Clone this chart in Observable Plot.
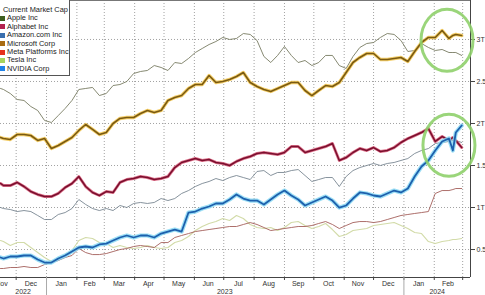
<!DOCTYPE html>
<html><head><meta charset="utf-8">
<script src="https://cdn.jsdelivr.net/npm/d3@7"></script>
<script src="https://cdn.jsdelivr.net/npm/@observablehq/plot@0.6"></script>
<style>
html,body{margin:0;padding:0;background:#fff;overflow:hidden;}
#wrap{position:relative;width:485px;height:295px;}
#legend{position:absolute;left:-1px;top:-1px;width:71px;height:77px;background:#fff;border:1px solid #555;box-sizing:border-box;font:7.4px "Liberation Sans",Arial,sans-serif;color:#222;padding-top:6px;}
#legend div{height:8.4px;line-height:8.4px;white-space:nowrap;position:relative;padding-left:7px;}
#legend .title{padding-left:3px;}
#legend span.sw{position:absolute;left:0;top:1.7px;width:5px;height:5px;}
</style>
</head><body>
<div id="wrap"><div id="chart"></div><div id="legend"></div></div>
<script>
const dates = ["2022-11-15","2022-11-18","2022-11-25","2022-12-02","2022-12-09","2022-12-16","2022-12-23","2022-12-30","2023-01-06","2023-01-13","2023-01-20","2023-01-27","2023-02-03","2023-02-10","2023-02-17","2023-02-24","2023-03-03","2023-03-10","2023-03-17","2023-03-24","2023-03-31","2023-04-07","2023-04-14","2023-04-21","2023-04-28","2023-05-05","2023-05-12","2023-05-19","2023-05-26","2023-06-02","2023-06-09","2023-06-16","2023-06-23","2023-06-30","2023-07-07","2023-07-14","2023-07-21","2023-07-28","2023-08-04","2023-08-11","2023-08-18","2023-08-25","2023-09-01","2023-09-08","2023-09-15","2023-09-22","2023-09-29","2023-10-06","2023-10-13","2023-10-20","2023-10-27","2023-11-03","2023-11-10","2023-11-17","2023-11-24","2023-12-01","2023-12-08","2023-12-15","2023-12-22","2023-12-29","2024-01-05","2024-01-12","2024-01-19","2024-01-26","2024-02-02","2024-02-09","2024-02-16","2024-02-20","2024-02-23","2024-02-29"];

const names = ["Apple Inc","Alphabet Inc","Amazon.com Inc","Microsoft Corp","Meta Platforms Inc","Tesla Inc","NVIDIA Corp"];

// market cap, trillions USD
const apple = [2.417,2.405,2.357,2.286,2.274,2.202,2.155,2.036,2.012,2.095,2.179,2.274,2.405,2.417,2.429,2.333,2.357,2.452,2.464,2.5,2.595,2.619,2.631,2.690,2.667,2.631,2.726,2.714,2.774,2.845,2.893,2.940,2.976,3.024,3.0,3.012,3.071,3.060,2.988,2.798,2.726,2.810,2.917,2.810,2.726,2.75,2.690,2.726,2.810,2.810,2.690,2.655,2.798,2.905,2.952,2.964,3.024,3.071,3.060,2.988,2.857,2.869,2.952,2.905,2.869,2.881,2.845,2.845,2.845,2.810];
const alphabet = [1.286,1.262,1.262,1.298,1.25,1.190,1.155,1.131,1.131,1.167,1.238,1.286,1.369,1.25,1.179,1.143,1.190,1.179,1.298,1.333,1.345,1.369,1.357,1.333,1.345,1.369,1.476,1.536,1.560,1.583,1.560,1.571,1.536,1.524,1.5,1.548,1.583,1.607,1.643,1.655,1.643,1.631,1.655,1.726,1.726,1.655,1.679,1.702,1.726,1.762,1.560,1.595,1.655,1.702,1.679,1.714,1.667,1.679,1.714,1.774,1.821,1.857,1.893,1.940,1.786,1.845,1.798,1.833,1.798,1.714];
const amazon = [1.0,0.988,0.976,0.952,0.964,0.952,0.905,0.857,0.857,0.917,0.940,0.988,1.095,1.036,0.988,0.964,0.988,0.964,1.024,1.0,1.048,1.060,1.048,1.060,1.107,1.083,1.107,1.167,1.202,1.25,1.286,1.310,1.345,1.321,1.357,1.381,1.357,1.333,1.429,1.440,1.381,1.417,1.417,1.440,1.452,1.381,1.310,1.333,1.357,1.357,1.25,1.369,1.440,1.476,1.5,1.524,1.5,1.524,1.536,1.560,1.583,1.643,1.679,1.702,1.762,1.774,1.786,1.798,1.798,1.774];
const microsoft = [1.833,1.821,1.810,1.869,1.869,1.857,1.798,1.821,1.702,1.738,1.786,1.833,1.917,1.988,1.929,1.869,1.893,2.0,2.060,2.071,2.071,2.119,2.155,2.131,2.155,2.274,2.310,2.333,2.417,2.464,2.464,2.571,2.488,2.5,2.524,2.560,2.607,2.488,2.440,2.405,2.381,2.417,2.452,2.488,2.488,2.393,2.333,2.393,2.452,2.440,2.488,2.607,2.726,2.786,2.833,2.833,2.762,2.762,2.774,2.786,2.738,2.857,2.964,3.024,3.024,3.107,3.012,3.048,3.060,3.048];
const meta = [0.274,0.274,0.286,0.286,0.298,0.286,0.286,0.321,0.345,0.369,0.405,0.429,0.512,0.464,0.440,0.440,0.452,0.476,0.5,0.512,0.536,0.548,0.536,0.524,0.583,0.583,0.643,0.667,0.690,0.714,0.726,0.738,0.75,0.762,0.774,0.774,0.798,0.821,0.798,0.762,0.726,0.738,0.75,0.762,0.774,0.774,0.786,0.810,0.833,0.798,0.75,0.786,0.821,0.833,0.833,0.821,0.833,0.857,0.881,0.905,0.917,0.929,0.940,0.952,1.167,1.202,1.202,1.214,1.226,1.226];
const tesla = [0.607,0.595,0.548,0.583,0.583,0.524,0.464,0.405,0.357,0.381,0.440,0.488,0.607,0.643,0.631,0.583,0.571,0.524,0.548,0.524,0.512,0.524,0.548,0.524,0.512,0.524,0.583,0.607,0.655,0.726,0.774,0.810,0.833,0.869,0.845,0.905,0.869,0.798,0.762,0.75,0.762,0.726,0.762,0.821,0.833,0.786,0.75,0.774,0.810,0.738,0.655,0.679,0.726,0.738,0.75,0.786,0.798,0.810,0.821,0.786,0.75,0.702,0.690,0.595,0.571,0.595,0.607,0.619,0.619,0.631];
const nvidia = [0.405,0.393,0.417,0.417,0.429,0.429,0.381,0.345,0.345,0.393,0.429,0.476,0.524,0.536,0.524,0.560,0.571,0.607,0.643,0.667,0.643,0.667,0.667,0.643,0.690,0.714,0.738,0.714,0.940,0.952,0.988,1.012,1.048,1.048,1.095,1.155,1.107,1.083,1.083,1.036,1.095,1.155,1.202,1.143,1.095,1.024,1.060,1.095,1.131,1.083,1.0,1.024,1.107,1.179,1.167,1.143,1.131,1.167,1.202,1.179,1.226,1.369,1.488,1.560,1.679,1.786,1.821,1.679,1.893,1.976];

const monthStarts = ["2022-12-01","2023-01-01","2023-02-01","2023-03-01","2023-04-01","2023-05-01","2023-06-01","2023-07-01","2023-08-01","2023-09-01","2023-10-01","2023-11-01","2023-12-01","2024-01-01","2024-02-01","2024-03-01"];
const monthMids = ["2022-11-16","2022-12-16","2023-01-16","2023-02-14","2023-03-16","2023-04-15","2023-05-16","2023-06-15","2023-07-16","2023-08-16","2023-09-15","2023-10-16","2023-11-15","2023-12-16","2024-01-16","2024-02-15"];
const monthLabels = ["Nov","Dec","Jan","Feb","Mar","Apr","May","Jun","Jul","Aug","Sep","Oct","Nov","Dec","Jan","Feb"];
const yearStarts = ["2023-01-01","2024-01-01"];
const yearMids = ["2022-12-08","2023-07-02","2024-02-04"];
const yearLabels = ["2022","2023","2024"];
const yTicks = [0.5,1,1.5,2,2.5,3];
const yTickLabels = ["0.5T","1T","1.5T","2T","2.5T","3T"];

// highlighted regions (date, value) for the green ellipses
const highlightDates = ["2024-02-14","2024-02-16"];
const highlightValues = [2.99,1.74];

const seriesValues = {"Apple Inc":apple,"Alphabet Inc":alphabet,"Amazon.com Inc":amazon,"Microsoft Corp":microsoft,"Meta Platforms Inc":meta,"Tesla Inc":tesla,"NVIDIA Corp":nvidia};

const lineStyle = {
  "Apple Inc":{stroke:"#707458",w:0.85},
  "Alphabet Inc":{stroke:"#7a0f2e",w:1.5,halo:"#d85a78",hw:3},
  "Amazon.com Inc":{stroke:"#717f8b",w:0.85},
  "Microsoft Corp":{stroke:"#7a5a12",w:1.6,halo:"#f2c54e",hw:3.4},
  "Meta Platforms Inc":{stroke:"#a45f5a",w:0.9},
  "Tesla Inc":{stroke:"#d2dba8",w:1.1},
  "NVIDIA Corp":{stroke:"#1d60ad",w:1.8,halo:"#8ad8f3",hw:4.2}
};
const legendColor = {"Apple Inc":"#3d5e1e","Alphabet Inc":"#b3214e","Amazon.com Inc":"#3a6fae","Microsoft Corp":"#a86b12","Meta Platforms Inc":"#e6301c","Tesla Inc":"#a7d45e","NVIDIA Corp":"#1f82e8"};

const rows = names.flatMap(n => dates.map((d,i) => ({date:new Date(d), name:n, value:seriesValues[n][i]})));
const xDomain = [new Date("2022-11-15"), new Date("2024-03-09")];
const yDomain = [0.167, 3.464];
const D = a => a.map(d => new Date(d));

const k = 0.5523;
const ellipse = {draw(ctx){ const rx=26, ry=31;
  ctx.moveTo(rx,0);
  ctx.bezierCurveTo(rx,ry*k,rx*k,ry,0,ry);
  ctx.bezierCurveTo(-rx*k,ry,-rx,ry*k,-rx,0);
  ctx.bezierCurveTo(-rx,-ry*k,-rx*k,-ry,0,-ry);
  ctx.bezierCurveTo(rx*k,-ry,rx,-ry*k,rx,0);
  ctx.closePath(); }};

const order = ["Tesla Inc","Meta Platforms Inc","Amazon.com Inc","Apple Inc","Alphabet Inc","Microsoft Corp","NVIDIA Corp"];
const lineMarks = [];
for (const n of order) {
  const s = lineStyle[n];
  const data = rows.filter(r => r.name === n);
  if (s.halo) lineMarks.push(Plot.line(data, {x:"date", y:"value", stroke:s.halo, strokeWidth:s.hw, strokeOpacity:0.85}));
  lineMarks.push(Plot.line(data, {x:"date", y:"value", stroke:s.stroke, strokeWidth:s.w}));
}

const chart = Plot.plot({
  width:485, height:295,
  marginLeft:0, marginRight:15, marginTop:0, marginBottom:18,
  x:{type:"utc", domain:xDomain, label:null},
  y:{domain:yDomain, label:null},
  style:{fontFamily:"'Liberation Sans', Arial, sans-serif", fontSize:"7px", color:"#333", background:"#fff"},
  marks:[
    Plot.ruleX(D(monthStarts), {stroke:"#8a8a8a", strokeDasharray:"1,2", strokeWidth:0.8}),
    Plot.ruleY(yTicks, {stroke:"#8a8a8a", strokeDasharray:"1,2", strokeWidth:0.8}),
    ...lineMarks,
    Plot.ruleY([yDomain[1]], {stroke:"#777"}),
    Plot.ruleY([yDomain[0]], {stroke:"#444"}),
    Plot.ruleX([xDomain[1]], {stroke:"#444"}),
    Plot.axisX(D(monthStarts), {tickSize:3, tickFormat:() => "", stroke:"#444", label:null}),
    Plot.axisX(D(yearStarts), {tickSize:18, tickFormat:() => "", stroke:"#aaa", label:null}),
    Plot.axisX(D(monthMids), {tickSize:0, tickPadding:3.5, tickFormat:(d,i) => monthLabels[i], fill:"#333", label:null}),
    Plot.axisX(D(yearMids), {tickSize:0, tickPadding:12, tickFormat:(d,i) => yearLabels[i], fill:"#333", label:null}),
    Plot.axisY(yTicks, {anchor:"right", tickSize:4, tickPadding:2, tickFormat:(d,i) => yTickLabels[i], stroke:"#444", fill:"#333", label:null}),
    Plot.dot(highlightDates.map((d,i) => ({date:new Date(d), value:highlightValues[i]})), {x:"date", y:"value", symbol:ellipse, stroke:"#8fd06b", strokeWidth:3, strokeOpacity:0.9, fill:"none"})
  ]
});
document.getElementById("chart").appendChild(chart);

const leg = document.getElementById("legend");
const t = document.createElement("div"); t.className = "title"; t.textContent = "Current Market Cap"; leg.appendChild(t);
for (const n of names) {
  const d = document.createElement("div");
  const sw = document.createElement("span"); sw.className = "sw"; sw.style.background = legendColor[n];
  d.appendChild(sw); d.appendChild(document.createTextNode(n)); leg.appendChild(d);
}
</script>
</body></html>
